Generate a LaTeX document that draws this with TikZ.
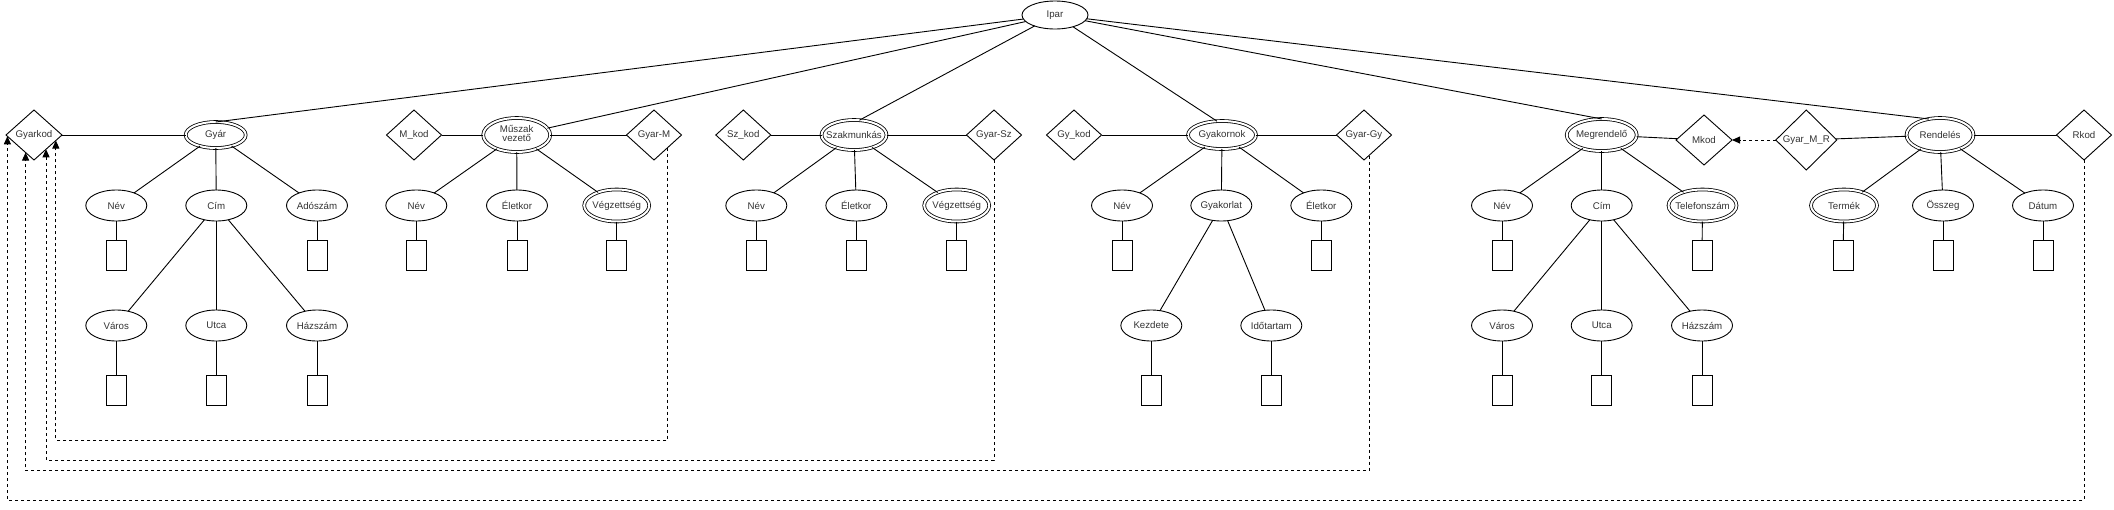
\documentclass[tikz,border=0pt]{standalone}
\usepackage{fontspec}
\setmainfont{Liberation Sans}
\usetikzlibrary{shapes.geometric,arrows.meta,calc}
\newcommand\zt[1]{\makebox[0pt]{#1}}
\begin{document}
\begin{tikzpicture}[x=1pt,y=-1pt,
  base/.style={draw=black, line width=0.9pt, inner sep=0pt, outer sep=0pt, font=\fontsize{9.7}{11}\selectfont, text=black!80},
  attr/.style={base, ellipse, minimum width=61pt, minimum height=31pt},
  dattr/.style={base, ellipse, double, double distance=2pt, line width=0.8pt, minimum width=65pt, minimum height=32pt},
  ent/.style={base, ellipse, double, double distance=2pt, line width=0.8pt},
  rel/.style={base, diamond, minimum width=55pt, minimum height=50pt},
  val/.style={base, rectangle, minimum width=20pt, minimum height=30pt},
  conn/.style={line width=0.9pt},
  dline/.style={line width=0.9pt, dash pattern=on 3pt off 3pt},
  tip/.style={-{Triangle[length=8pt,width=7pt]}}
]
\useasboundingbox (0,0) rectangle (2114,509);

\node[base, ellipse, minimum width=66pt, minimum height=28pt] (Ipar) at (1055,15) {\zt{Ipar}};

% Gyar
\node[rel, minimum width=56pt] (Gyarkod) at (34,135) {\zt{Gyarkod}};
\node[ent, minimum width=60pt, minimum height=26pt] (Gyar) at (215.7,135) {\zt{Gyár}};
\node[attr] (g1) at (116.3,205.5) {\zt{Név}};
\node[attr] (g2) at (216.3,205.5) {\zt{Cím}};
\node[attr] (g3) at (317,205.5) {\zt{Adószám}};
\node[val] (g1v) at (116.3,255) {};
\node[val] (g3v) at (317,255) {};
\node[attr] (g21) at (116.3,325.5) {\zt{Város}};
\node[attr] (g22) at (216.3,325.5) {\zt{Utca}};
\node[attr] (g23) at (317,325.5) {\zt{Házszám}};
\node[val] (g21v) at (116.3,390.5) {};
\node[val] (g22v) at (216.3,390.5) {};
\node[val] (g23v) at (317,390.5) {};

% Muszak vezeto
\node[rel] (Mkod1) at (414,135) {\zt{M\_kod}};
\node[ent, minimum width=67pt, minimum height=34pt] (Musz) at (516.7,135) {\zt{\begin{tabular}{@{}c@{}}Műszak\\[-2pt]vezető\end{tabular}}};
\node[rel] (GyarM) at (654,135) {\zt{Gyar-M}};
\node[attr] (m1) at (416.3,205.5) {\zt{Név}};
\node[attr] (m2) at (517,205.5) {\zt{Életkor}};
\node[dattr] (m3) at (616.7,205.5) {\zt{Végzettség}};
\node[val] (m1v) at (416.3,255) {};
\node[val] (m2v) at (517,255) {};
\node[val] (m3v) at (616.7,255) {};

% Szakmunkas
\node[rel] (Szkod) at (743.3,135) {\zt{Sz\_kod}};
\node[ent, minimum width=65pt, minimum height=30pt] (Szak) at (854,135) {\zt{Szakmunkás}};
\node[rel] (GyarSz) at (994,135) {\zt{Gyar-Sz}};
\node[attr] (s1) at (756.3,205.5) {\zt{Név}};
\node[attr] (s2) at (856.3,205.5) {\zt{Életkor}};
\node[dattr] (s3) at (956.7,205.5) {\zt{Végzettség}};
\node[val] (s1v) at (756.3,255) {};
\node[val] (s2v) at (856.3,255) {};
\node[val] (s3v) at (956.7,255) {};

% Gyakornok
\node[rel] (Gykod) at (1074,135) {\zt{Gy\_kod}};
\node[ent, minimum width=68pt, minimum height=28pt] (Gyak) at (1222,135) {\zt{Gyakornok}};
\node[rel] (GyarGy) at (1364,135) {\zt{Gyar-Gy}};
\node[attr] (k1) at (1122,205.5) {\zt{Név}};
\node[attr] (k2) at (1221.3,205.5) {\zt{Gyakorlat}};
\node[attr] (k3) at (1321.3,205.5) {\zt{Életkor}};
\node[val] (k1v) at (1122,255) {};
\node[val] (k3v) at (1321.3,255) {};
\node[attr] (k21) at (1151.3,325.5) {\zt{Kezdete}};
\node[attr] (k22) at (1271.3,325.5) {\zt{Időtartam}};
\node[val] (k21v) at (1151.3,390.5) {};
\node[val] (k22v) at (1271.3,390.5) {};

% Megrendelo
\node[ent, minimum width=70pt, minimum height=32pt] (Megr) at (1601.7,135) {\zt{Megrendelő}};
\node[rel, minimum width=56pt] (Mkod) at (1704,140) {\zt{Mkod}};
\node[rel, minimum width=61pt, minimum height=60pt] (GyarMR) at (1806.3,140) {\zt{Gyar\_M\_R}};
\node[attr] (r1) at (1502,205.5) {\zt{Név}};
\node[attr] (r2) at (1601.7,205.5) {\zt{Cím}};
\node[dattr, minimum width=68pt] (r3) at (1702.5,205.5) {\zt{Telefonszám}};
\node[val] (r1v) at (1502,255) {};
\node[val] (r3v) at (1702,255) {};
\node[attr] (r21) at (1502,325.5) {\zt{Város}};
\node[attr] (r22) at (1601.7,325.5) {\zt{Utca}};
\node[attr] (r23) at (1702,325.5) {\zt{Házszám}};
\node[val] (r21v) at (1502,390.5) {};
\node[val] (r22v) at (1601.7,390.5) {};
\node[val] (r23v) at (1702,390.5) {};

% Rendeles
\node[ent, minimum width=67pt, minimum height=34pt] (Rend) at (1940,135) {\zt{Rendelés}};
\node[rel] (Rkod) at (2084,135) {\zt{Rkod}};
\node[dattr, minimum width=66pt] (d1) at (1844,205.5) {\zt{Termék}};
\node[attr] (d2) at (1943,205.5) {\zt{Összeg}};
\node[attr] (d3) at (2043,205.5) {\zt{Dátum}};
\node[val] (d1v) at (1843,255) {};
\node[val] (d2v) at (1943,255) {};
\node[val] (d3v) at (2043,255) {};

% Ipar connectors
\draw[conn] (Ipar) -- (Gyar.north);
\draw[conn] (Ipar) -- (Musz);
\draw[conn] (Ipar) -- (Szak.70);
\draw[conn] (Ipar) -- (Gyak.110);
\draw[conn] (Ipar) -- (Megr.north);
\draw[conn] (Ipar) -- (Rend.125);

% side connectors
\draw[conn] (Gyarkod) -- (Gyar);
\draw[conn] (Mkod1) -- (Musz);
\draw[conn] (Musz) -- (GyarM);
\draw[conn] (Szkod) -- (Szak);
\draw[conn] (Szak) -- (GyarSz);
\draw[conn] (Gykod) -- (Gyak);
\draw[conn] (Gyak) -- (GyarGy);
\draw[conn] (Megr) -- (Mkod);
\draw[conn] (GyarMR) -- (Rend);
\draw[conn] (Rend) -- (Rkod);

% attributes
\foreach \a/\b in {Gyar/g1,Gyar/g2,Gyar/g3,g2/g21,g2/g22,g2/g23,
  g1/g1v,g3/g3v,g21/g21v,g22/g22v,g23/g23v,
  Musz/m1,Musz/m2,Musz/m3,m1/m1v,m2/m2v,m3/m3v,
  Szak/s1,Szak/s2,Szak/s3,s1/s1v,s2/s2v,s3/s3v,
  Gyak/k1,Gyak/k2,Gyak/k3,k1/k1v,k3/k3v,k2/k21,k2/k22,k21/k21v,k22/k22v,
  Megr/r1,Megr/r2,Megr/r3,r1/r1v,r3/r3v,r2/r21,r2/r22,r2/r23,r21/r21v,r22/r22v,r23/r23v,
  Rend/d1,Rend/d2,Rend/d3,d1/d1v,d2/d2v,d3/d3v}
  \draw[conn] (\a) -- (\b);

% dashed references
\draw[dline,tip] (GyarMR) -- (Mkod);

\coordinate (yM) at (0,440);
\coordinate (ySz) at (0,460);
\coordinate (yGy) at (0,470.7);
\coordinate (yR) at (0,500);
\coordinate (sM) at ($(GyarM.south)!0.5!(GyarM.east)$);
\coordinate (sGy) at ($(GyarGy.south)!0.18!(GyarGy.east)$);
\coordinate (eM) at ($(Gyarkod.south)!0.78!(Gyarkod.east)$);
\coordinate (eSz) at ($(Gyarkod.south)!0.43!(Gyarkod.east)$);
\coordinate (eGy) at ($(Gyarkod.south)!0.3!(Gyarkod.west)$);
\coordinate (eR) at ($(Gyarkod.south)!0.95!(Gyarkod.west)$);

\draw[dline,tip] (sM) -- (sM |- yM) -- (eM |- yM) -- (eM);
\draw[dline,tip] (GyarSz.south) -- (GyarSz.south |- ySz) -- (eSz |- ySz) -- (eSz);
\draw[dline,tip] (sGy) -- (sGy |- yGy) -- (eGy |- yGy) -- (eGy);
\draw[dline,tip] (Rkod.south) -- (Rkod.south |- yR) -- (eR |- yR) -- (eR);
\end{tikzpicture}
\end{document}
